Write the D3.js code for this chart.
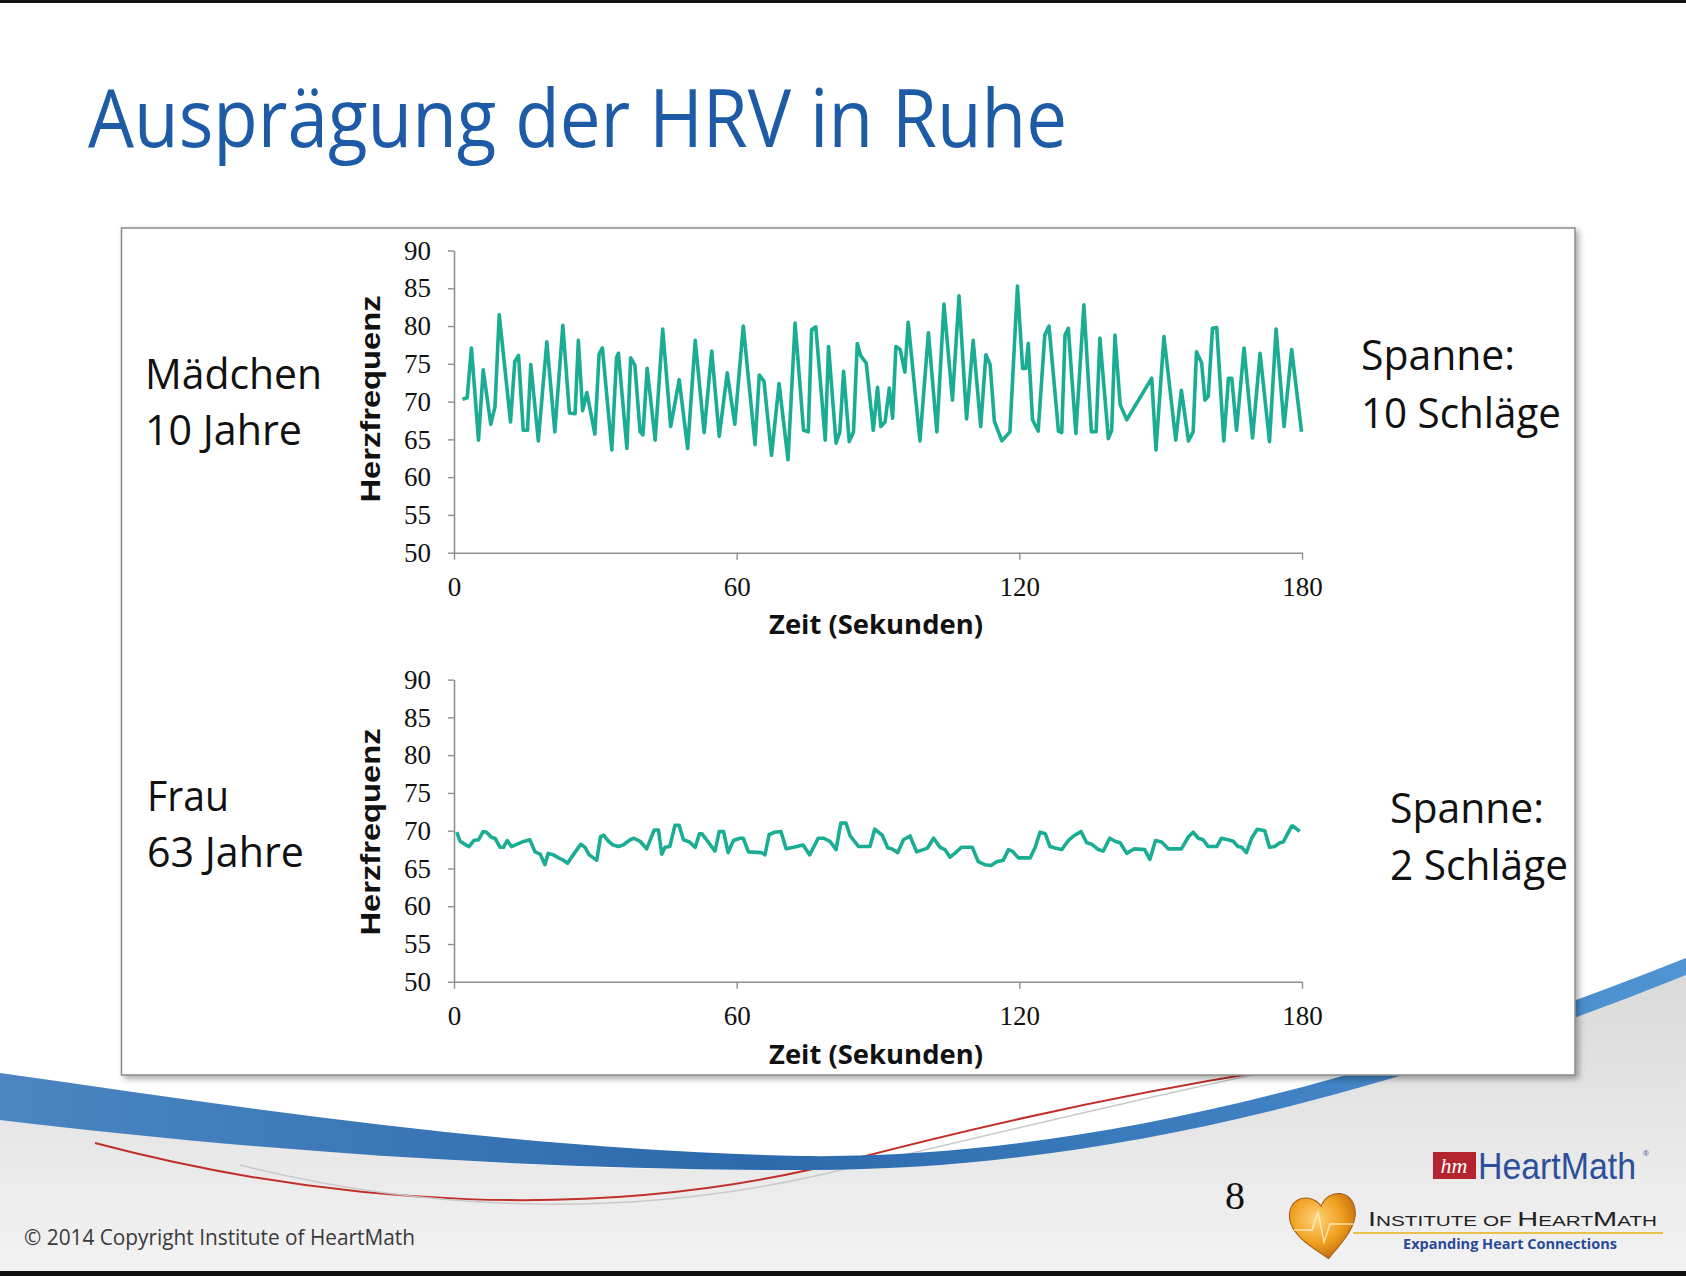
<!DOCTYPE html>
<html>
<head>
<meta charset="utf-8">
<script src="https://cdn.jsdelivr.net/npm/d3@7"></script>
<style>
  body { margin: 0; background: #fff; }
  svg { display: block; }
</style>
</head>
<body>
<div id="chart"></div>
<script>
/**
 * DATA
 * */
// Mädchen, 10 Jahre: seconds / beats per minute
const girlTime = [1.8, 2.8, 3.7, 5.2, 6.2, 7.8, 8.7, 9.6, 12.0, 12.9, 13.7, 14.7, 15.6, 16.3, 17.9, 19.7, 21.4, 23.1, 24.5, 25.7,
  26.4, 27.3, 28.2, 29.9, 30.8, 31.5, 33.5, 34.5, 34.9, 36.7, 37.5, 38.4, 39.5, 40.1, 41.0, 42.7, 44.3, 46.0, 47.8, 49.6,
  51.2, 53.1, 54.7, 56.3, 58.0, 59.6, 61.4, 63.9, 64.8, 65.8, 67.4, 69.0, 70.9, 72.4, 74.2, 75.2, 75.9, 76.8, 78.8, 79.5,
  81.1, 81.9, 82.7, 83.9, 84.8, 85.6, 86.3, 87.5, 89.0, 89.9, 90.6, 91.5, 92.4, 93.1, 93.8, 94.7, 95.7, 96.4, 98.9, 100.7,
  102.5, 104.0, 105.8, 107.2, 108.8, 110.2, 111.8, 112.9, 113.8, 114.7, 116.3, 118.0, 119.6, 120.7, 121.4, 121.9, 122.8, 124.0, 125.4, 126.3,
  128.3, 129.0, 129.7, 130.4, 132.0, 133.7, 135.3, 136.3, 137.1, 138.9, 139.6, 140.3, 141.4, 142.8, 148.1, 149.0, 150.7, 153.2, 154.4, 155.9,
  156.9, 157.6, 158.7, 159.4, 160.1, 161.0, 161.9, 163.4, 164.4, 165.1, 166.1, 167.7, 169.5, 171.1, 173.1, 174.5, 176.2, 177.8, 179.9];
const girlHR = [70.3, 70.5, 77.1, 64.9, 74.2, 67.0, 69.3, 81.5, 67.3, 75.3, 76.1, 66.2, 66.2, 74.9, 64.8, 77.9, 66.0, 80.1, 68.5, 68.4,
  78.1, 68.8, 71.2, 65.7, 76.3, 77.1, 63.6, 75.8, 76.4, 63.8, 75.8, 74.8, 66.0, 65.6, 74.4, 64.9, 79.6, 66.7, 72.9, 63.8,
  78.1, 65.9, 76.7, 65.4, 73.8, 67.0, 80.0, 64.3, 73.5, 72.7, 62.9, 72.4, 62.3, 80.4, 66.2, 66.0, 79.5, 79.9, 64.9, 77.3,
  64.5, 66.0, 74.0, 64.7, 66.0, 77.7, 76.1, 75.1, 66.2, 71.9, 66.7, 67.3, 71.8, 67.8, 77.3, 76.9, 73.9, 80.5, 64.8, 79.1,
  66.0, 82.9, 70.2, 84.0, 67.7, 78.1, 66.7, 76.2, 74.9, 67.4, 64.8, 66.0, 85.3, 74.4, 74.4, 77.7, 67.6, 66.1, 78.8, 80.0,
  66.1, 65.9, 78.8, 79.7, 65.8, 82.8, 66.0, 66.0, 78.4, 65.1, 66.2, 78.8, 69.6, 67.6, 73.1, 63.6, 78.6, 64.9, 71.5, 64.8,
  66.0, 76.6, 75.1, 70.2, 70.7, 79.7, 79.8, 64.8, 73.1, 73.1, 66.2, 77.1, 65.2, 76.4, 64.7, 79.6, 66.7, 76.9, 66.0];

// Frau, 63 Jahre
const womanTime = [0.6, 1.3, 2.3, 3.2, 4.2, 5.2, 6.2, 6.9, 8.0, 8.7, 9.8, 10.5, 11.3, 12.2, 13.3, 14.4, 16.1, 17.2, 18.3, 19.3,
  20.0, 21.1, 22.2, 23.2, 24.1, 25.3, 26.9, 27.8, 28.7, 29.6, 30.3, 31.1, 31.8, 32.8, 33.8, 34.9, 35.9, 37.4, 38.2, 39.5,
  40.9, 42.5, 43.4, 44.1, 44.8, 45.8, 46.9, 47.8, 48.7, 50.0, 51.2, 52.1, 52.6, 53.6, 55.4, 56.3, 57.2, 58.2, 59.3, 60.7,
  61.4, 62.5, 65.3, 66.0, 66.9, 68.1, 69.4, 70.5, 72.1, 74.1, 75.5, 77.3, 78.5, 79.8, 81.1, 82.1, 83.2, 84.1, 85.9, 88.3,
  89.3, 90.9, 92.1, 92.9, 94.2, 95.4, 96.8, 98.2, 99.6, 100.5, 101.8, 103.2, 104.2, 105.3, 106.3, 107.7, 110.0, 111.3, 112.7, 114.0,
  115.2, 116.6, 117.7, 118.5, 119.8, 122.3, 123.3, 124.4, 125.5, 126.5, 127.6, 129.0, 130.4, 131.5, 133.1, 134.3, 135.4, 136.8, 137.8, 139.2,
  140.3, 141.4, 142.8, 144.4, 146.6, 147.7, 148.9, 150.2, 151.6, 154.4, 155.9, 156.9, 158.0, 159.0, 160.1, 161.9, 162.9, 164.3, 165.4, 166.4,
  167.2, 168.2, 169.3, 170.5, 172.1, 173.1, 174.2, 175.3, 176.0, 177.8, 178.1, 179.5];
const womanHR = [69.8, 68.6, 68.2, 67.9, 68.7, 68.8, 69.9, 69.8, 69.1, 69.0, 67.8, 67.8, 68.7, 67.9, 68.2, 68.5, 68.8, 67.2, 66.9, 65.5,
  67.0, 66.8, 66.4, 66.1, 65.7, 66.8, 68.2, 67.8, 66.8, 66.4, 66.1, 69.2, 69.4, 68.6, 68.1, 67.9, 68.1, 68.8, 69.0, 68.6,
  67.6, 70.1, 70.1, 66.9, 67.8, 67.9, 70.7, 70.7, 68.8, 68.5, 67.8, 69.6, 69.6, 68.8, 67.3, 69.9, 69.9, 67.1, 68.7, 69.0,
  69.0, 67.2, 67.1, 66.8, 69.5, 69.8, 69.9, 67.6, 67.8, 68.1, 66.8, 69.0, 69.0, 68.6, 67.5, 71.0, 71.0, 69.3, 67.9, 67.9,
  70.2, 69.4, 67.7, 67.6, 67.1, 68.8, 69.3, 67.2, 67.5, 67.7, 69.0, 67.8, 67.5, 66.5, 67.0, 67.8, 67.8, 65.9, 65.5, 65.4,
  65.9, 66.1, 67.5, 67.3, 66.4, 66.4, 67.7, 69.8, 69.6, 67.9, 67.7, 67.5, 68.7, 69.3, 69.9, 68.4, 68.2, 67.5, 67.3, 69.0,
  68.6, 68.4, 67.0, 67.6, 67.5, 66.2, 68.7, 68.5, 67.6, 67.6, 69.2, 69.8, 69.0, 68.8, 67.9, 67.9, 69.0, 68.8, 68.6, 67.9,
  67.8, 67.1, 69.0, 70.2, 70.0, 67.8, 67.9, 68.4, 68.5, 70.6, 70.6, 69.9];

const yTicks = [50, 55, 60, 65, 70, 75, 80, 85, 90];
const xTicks = [0, 60, 120, 180];
const panelNames = [["Mädchen", "10 Jahre"], ["Frau", "63 Jahre"]];
const spanLabels = [["Spanne:", "10 Schläge"], ["Spanne:", "2 Schläge"]];

/**
 * CONSTANTS
 * */
const width = 1686, height = 1276;
const teal = "#1aad93";
const axisGrey = "#8f8f8f";
const sans = "'Open Sans', 'Noto Sans', sans-serif";
const serif = "'Liberation Serif', 'DejaVu Serif', serif";

const svg = d3.select("#chart").append("svg")
  .attr("width", width)
  .attr("height", height);

const defs = svg.append("defs");

// squeeze a text into a known width (the slide font is narrower than ours)
function fit(sel, w) {
  sel.attr("textLength", w).attr("lengthAdjust", "spacingAndGlyphs");
  return sel;
}

/**
 * SLIDE BACKGROUND
 * */
svg.append("rect").attr("width", width).attr("height", height).attr("fill", "#fff");

const bandGrad = defs.append("linearGradient").attr("id", "band").attr("x1", 0).attr("x2", 1);
bandGrad.append("stop").attr("offset", 0).attr("stop-color", "#4b86c2");
bandGrad.append("stop").attr("offset", 0.45).attr("stop-color", "#2c69ad");
bandGrad.append("stop").attr("offset", 1).attr("stop-color", "#4f94d4");

const floorGrad = defs.append("linearGradient").attr("id", "floor").attr("x1", 0).attr("x2", 0).attr("y1", 0).attr("y2", 1);
floorGrad.append("stop").attr("offset", 0).attr("stop-color", "#d9d9d9");
floorGrad.append("stop").attr("offset", 1).attr("stop-color", "#f3f3f3");

// grey floor under the swoosh
svg.append("path")
  .attr("d", "M0,1110 C260,1150 560,1175 800,1168 C1100,1158 1400,1080 1686,970 L1686,1276 L0,1276 Z")
  .attr("fill", "url(#floor)");

// thin red + grey lines
svg.append("path")
  .attr("d", "M95,1143 C330,1205 600,1225 850,1160 C1080,1100 1300,1060 1490,1043")
  .attr("fill", "none").attr("stroke", "#c0302a").attr("stroke-width", 2);
svg.append("path")
  .attr("d", "M240,1165 C420,1210 620,1220 820,1175 C1050,1120 1300,1060 1580,1010")
  .attr("fill", "none").attr("stroke", "#c9c9c9").attr("stroke-width", 1.5);

// blue swoosh
svg.append("path")
  .attr("d", "M0,1073 C260,1110 520,1150 800,1156 C1080,1160 1380,1080 1686,958 " +
             "L1686,975 C1400,1090 1100,1172 800,1170 C520,1170 250,1150 0,1120 Z")
  .attr("fill", "url(#band)");

// top / bottom black edges of the frame grab
svg.append("rect").attr("x", 0).attr("y", 0).attr("width", width).attr("height", 3).attr("fill", "#111");
svg.append("rect").attr("x", 0).attr("y", 1271).attr("width", width).attr("height", 5).attr("fill", "#111");

/**
 * TITLE
 * */
fit(svg.append("text")
  .attr("x", 88).attr("y", 147)
  .attr("font-family", sans)
  .attr("font-size", 80)
  .attr("fill", "#1d5ba7")
  .text("Ausprägung der HRV in Ruhe"), 979);

/**
 * CHART BOX
 * */
const shadow = defs.append("filter").attr("id", "shadow")
  .attr("x", "-5%").attr("y", "-5%").attr("width", "110%").attr("height", "110%");
shadow.append("feDropShadow")
  .attr("dx", 3).attr("dy", 3).attr("stdDeviation", 3)
  .attr("flood-color", "#000").attr("flood-opacity", 0.35);

svg.append("rect")
  .attr("x", 121.5).attr("y", 228)
  .attr("width", 1453.5).attr("height", 847)
  .attr("fill", "#fff")
  .attr("stroke", "#8a8a8a").attr("stroke-width", 1.5)
  .attr("filter", "url(#shadow)");

/**
 * PANELS
 * */
const x = d3.scaleLinear().domain([0, 180]).range([454, 1302]);

const panels = [
  { time: girlTime, hr: girlHR, y: d3.scaleLinear().domain([50, 90]).range([552.7, 250.5]),
    names: panelNames[0], nameX: 145, nameY: [389, 445], nameW: [177, 157],
    span: spanLabels[0], spanX: 1361, spanY: [370, 428], spanW: [154, 200],
    xLabelY: 634, yLabelCY: 399 },
  { time: womanTime, hr: womanHR, y: d3.scaleLinear().domain([50, 90]).range([981.8, 679.6]),
    names: panelNames[1], nameX: 147, nameY: [811, 867], nameW: [82, 157],
    span: spanLabels[1], spanX: 1390, spanY: [823, 880], spanW: [154, 178],
    xLabelY: 1064, yLabelCY: 832 }
];

panels.forEach(p => {
  const g = svg.append("g");

  // axes
  const yAxis = d3.axisLeft(p.y).tickValues(yTicks).tickSize(6).tickSizeOuter(0).tickPadding(17);
  const xAxis = d3.axisBottom(x).tickValues(xTicks).tickSize(7).tickSizeOuter(0).tickPadding(17);

  const gy = g.append("g").attr("transform", `translate(${x(0)},0)`).call(yAxis);
  const gx = g.append("g").attr("transform", `translate(0,${p.y(50)})`).call(xAxis);

  [gy, gx].forEach(a => {
    a.select(".domain").attr("stroke", axisGrey).attr("stroke-width", 1.6);
    a.selectAll(".tick line").attr("stroke", axisGrey).attr("stroke-width", 1.4);
    a.selectAll(".tick text")
      .attr("font-family", serif)
      .attr("font-size", 27)
      .attr("fill", "#111");
  });

  // heart rate line
  const pts = p.time.map((t, i) => [t, p.hr[i]]);
  g.append("path")
    .datum(pts)
    .attr("d", d3.line().x(d => x(d[0])).y(d => p.y(d[1])))
    .attr("fill", "none")
    .attr("stroke", teal)
    .attr("stroke-width", 3.6)
    .attr("stroke-linejoin", "round");

  // axis titles
  fit(g.append("text")
    .attr("transform", `translate(380,${p.yLabelCY}) rotate(-90)`)
    .attr("text-anchor", "middle")
    .attr("font-family", "'Liberation Sans', Arial, sans-serif")
    .attr("font-weight", "bold")
    .attr("font-size", 27)
    .attr("fill", "#111")
    .text("Herzfrequenz"), 207);

  fit(g.append("text")
    .attr("x", 876).attr("y", p.xLabelY)
    .attr("text-anchor", "middle")
    .attr("font-family", sans)
    .attr("font-weight", "bold")
    .attr("font-size", 27)
    .attr("fill", "#111")
    .text("Zeit (Sekunden)"), 214);

  // side labels
  p.names.forEach((s, i) => {
    fit(g.append("text")
      .attr("x", p.nameX).attr("y", p.nameY[i])
      .attr("font-family", sans)
      .attr("font-size", 42)
      .attr("fill", "#111")
      .text(s), p.nameW[i]);
  });
  p.span.forEach((s, i) => {
    fit(g.append("text")
      .attr("x", p.spanX).attr("y", p.spanY[i])
      .attr("font-family", sans)
      .attr("font-size", 42)
      .attr("fill", "#111")
      .text(s), p.spanW[i]);
  });
});

/**
 * FOOTER
 * */
fit(svg.append("text")
  .attr("x", 24).attr("y", 1245)
  .attr("font-family", sans)
  .attr("font-size", 21)
  .attr("fill", "#3a3a3a")
  .text("© 2014 Copyright Institute of HeartMath"), 391);

svg.append("text")
  .attr("x", 1235).attr("y", 1209)
  .attr("text-anchor", "middle")
  .attr("font-family", serif)
  .attr("font-size", 40)
  .attr("fill", "#111")
  .text("8");

// HeartMath logo
const logo = svg.append("g");
logo.append("rect")
  .attr("x", 1433).attr("y", 1152).attr("width", 43).attr("height", 27)
  .attr("fill", "#b3242f");
logo.append("text")
  .attr("x", 1454).attr("y", 1173)
  .attr("text-anchor", "middle")
  .attr("font-family", serif)
  .attr("font-style", "italic")
  .attr("font-size", 22)
  .attr("fill", "#fff")
  .text("hm");
fit(logo.append("text")
  .attr("x", 1478).attr("y", 1179)
  .attr("font-family", "'Liberation Sans', Arial, sans-serif")
  .attr("font-size", 36)
  .attr("fill", "#2b4f9c")
  .text("HeartMath"), 158);
logo.append("text")
  .attr("x", 1643).attr("y", 1156)
  .attr("font-family", "'Liberation Sans', Arial, sans-serif")
  .attr("font-size", 8)
  .attr("fill", "#2b4f9c")
  .text("®");

const heartGrad = defs.append("radialGradient").attr("id", "heart")
  .attr("cx", "40%").attr("cy", "35%").attr("r", "70%");
heartGrad.append("stop").attr("offset", 0).attr("stop-color", "#ffd27a");
heartGrad.append("stop").attr("offset", 0.55).attr("stop-color", "#f0a020");
heartGrad.append("stop").attr("offset", 1).attr("stop-color", "#b8650c");

logo.append("path")
  .attr("transform", "translate(1324,1226) rotate(-8)")
  .attr("d", "M0,-20 C-8,-36 -34,-34 -33,-10 C-32,6 -14,20 0,33 C14,20 32,6 33,-10 C34,-34 8,-36 0,-20 Z")
  .attr("fill", "url(#heart)")
  .attr("stroke", "#a55a10").attr("stroke-width", 1);
logo.append("path")
  .attr("transform", "translate(1324,1226)")
  .attr("d", "M-30,4 L-12,4 L-6,-14 L0,16 L6,-2 L30,-2")
  .attr("fill", "none").attr("stroke", "#fff3c8").attr("stroke-width", 1.5).attr("opacity", 0.8);

logo.append("line")
  .attr("x1", 1353).attr("x2", 1663).attr("y1", 1233).attr("y2", 1233)
  .attr("stroke", "#e8c24a").attr("stroke-width", 2);

const inst = fit(logo.append("text")
  .attr("x", 1368).attr("y", 1226)
  .attr("font-family", "'Liberation Sans', Arial, sans-serif")
  .attr("font-size", 15)
  .attr("fill", "#222"), 289);
[["I", 21], ["NSTITUTE  OF  ", 15], ["H", 21], ["EART", 15], ["M", 21], ["ATH", 15]]
  .forEach(([s, fs]) => inst.append("tspan").attr("font-size", fs).text(s));

fit(logo.append("text")
  .attr("x", 1403).attr("y", 1249)
  .attr("font-family", sans)
  .attr("font-weight", "bold")
  .attr("font-size", 15)
  .attr("fill", "#2a4a98")
  .text("Expanding Heart Connections"), 214);
</script>
</body>
</html>
